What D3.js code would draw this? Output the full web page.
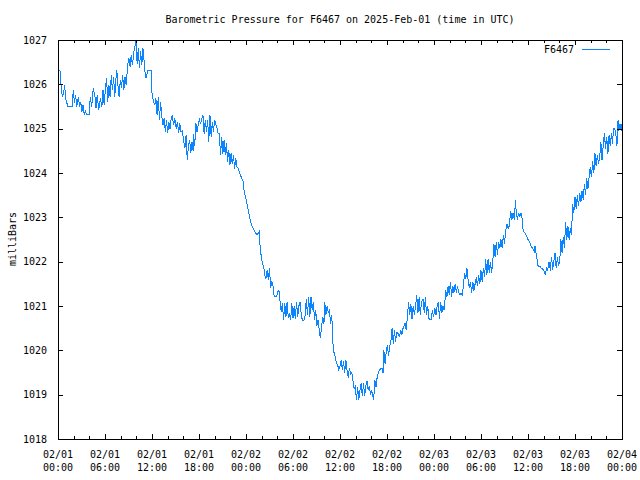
<!DOCTYPE html>
<html>
<head>
<meta charset="utf-8">
<script src="https://cdn.jsdelivr.net/npm/d3@7"></script>
<style>
  html, body { margin: 0; padding: 0; background: #fff; }
  svg { display: block; }
  text { font-family: "DejaVu Sans Mono", "Liberation Mono", monospace; font-size: 10px; fill: #000; }
</style>
</head>
<body>
<svg id="chart" width="640" height="480"></svg>
<script>
// ---- data (hours since 2025-02-01 00:00 UTC, pressure in mbar) ----
const hours = [
  0.25,0.4,0.55,0.7,0.85,1.0,1.15,1.25,1.5,1.8,1.96,2.1,2.25,2.4,2.6,2.75,2.9,3.05,3.2,3.35,3.5,3.65,3.8,4.05,
  4.1,4.3,4.5,4.7,4.85,5.0,5.2,5.4,5.6,5.75,5.9,6.05,6.2,6.35,6.5,6.65,6.8,6.95,7.1,7.25,7.4,7.5,7.65,7.8,7.95,
  8.1,8.25,8.4,8.55,8.7,8.9,9.05,9.2,9.35,9.5,9.7,9.85,9.96,10.1,10.25,10.4,10.55,10.7,10.85,11.0,11.1,11.25,11.4,
  11.5,11.95,12.0,12.2,12.35,12.5,12.65,12.8,12.95,13.1,13.25,13.4,13.55,13.7,13.85,14.0,14.15,14.3,14.45,14.6,
  14.75,14.9,15.1,15.25,15.4,15.55,15.7,15.85,16.1,16.2,16.35,16.5,16.65,16.8,16.95,17.1,17.25,17.3,17.45,17.6,
  17.75,17.9,18.05,18.2,18.35,18.5,18.65,18.8,18.95,19.1,19.25,19.4,19.55,19.7,19.85,20.0,20.15,20.3,20.45,20.6,
  20.75,20.9,21.05,21.2,21.35,21.5,21.65,21.8,21.95,22.1,22.25,22.4,22.55,22.7,22.85,23.0,23.15,23.3,23.45,23.6,
  23.75,23.9,24.05,24.2,24.35,24.5,24.65,24.8,24.95,25.1,25.25,25.4,25.55,25.7,25.8,25.95,26.1,26.25,26.4,26.55,
  26.7,26.85,27.0,27.15,27.3,27.45,27.6,27.75,27.9,28.05,28.2,28.35,28.5,28.65,28.8,28.95,29.1,29.25,29.4,29.55,
  29.7,29.85,30.0,30.15,30.3,30.45,30.6,30.75,30.9,31.05,31.2,31.35,31.5,31.7,31.85,32.0,32.15,32.3,32.45,32.6,
  32.75,32.9,33.05,33.2,33.35,33.5,33.65,33.8,33.95,34.05,34.2,34.35,34.5,34.65,34.8,34.95,35.1,35.25,35.4,35.55,
  35.7,35.85,36.0,36.15,36.3,36.45,36.6,36.75,36.9,37.05,37.2,37.35,37.5,37.65,37.8,37.95,38.1,38.25,38.4,38.55,
  38.7,38.85,39.0,39.15,39.3,39.45,39.6,39.75,39.9,40.05,40.3,40.45,40.6,40.75,40.9,41.05,41.2,41.35,41.5,41.6,
  41.75,41.9,42.05,42.2,42.35,42.5,42.65,42.8,42.95,43.1,43.25,43.45,43.6,43.75,43.9,44.05,44.3,44.45,44.6,44.75,
  44.9,45.05,45.2,45.35,45.5,45.65,45.8,45.95,46.1,46.25,46.4,46.6,46.75,46.9,47.05,47.2,47.35,47.5,47.65,47.8,
  47.95,48.1,48.25,48.4,48.55,48.7,48.85,49.0,49.15,49.3,49.5,49.65,49.8,49.95,50.1,50.25,50.4,50.55,50.7,50.85,
  51.0,51.15,51.3,51.45,51.6,51.75,51.9,52.05,52.2,52.35,52.5,52.65,52.8,52.95,53.1,53.25,53.4,53.55,53.7,53.85,
  54.0,54.15,54.3,54.45,54.6,54.75,54.9,55.05,55.2,55.35,55.5,55.65,55.8,55.95,56.1,56.25,56.4,56.55,56.7,56.85,
  57.0,57.15,57.3,57.45,57.6,57.8,57.95,58.1,58.25,58.4,58.5,58.65,58.8,58.95,59.05,59.2,59.3,59.45,59.6,59.8,
  60.0,60.2,60.4,60.6,60.8,60.9,61.1,61.3,61.5,61.7,62.0,62.2,62.35,62.5,62.7,62.85,63.0,63.15,63.3,63.45,
  63.6,63.75,63.9,64.05,64.2,64.35,64.5,64.65,64.8,64.95,65.1,65.25,65.4,65.55,65.7,65.85,66.0,66.15,66.3,66.45,
  66.6,66.75,66.9,67.05,67.2,67.35,67.5,67.65,67.8,67.95,68.1,68.25,68.4,68.55,68.7,68.85,69.0,69.15,69.3,69.45,
  69.6,69.75,69.9,70.05,70.2,70.35,70.5,70.65,70.8,70.9,71.05,71.2,71.35,71.5,71.6,71.75,71.9,72.0
];
const pressure = [
  1026.32,1025.98,1025.72,1025.80,1025.98,1025.65,1025.57,1025.51,1025.51,1025.51,1025.87,1025.57,1025.76,1025.50,1025.72,1025.50,1025.61,1025.38,1025.53,1025.31,1025.42,1025.31,1025.31,1025.31,
  1025.72,1025.50,1025.91,1025.76,1025.46,1025.76,1025.42,1025.68,1025.50,1025.87,1025.53,1025.91,1026.14,1025.61,1025.98,1025.72,1026.21,1025.87,1026.17,1025.72,1026.14,1026.32,1025.98,1025.72,1026.10,
  1025.91,1026.21,1025.87,1026.17,1025.98,1026.44,1026.59,1026.40,1026.66,1026.44,1026.74,1026.89,1027.00,1026.47,1026.81,1026.36,1026.74,1026.44,1026.81,1026.51,1026.29,1026.14,1026.25,
  1026.32,1026.32,1025.80,1025.61,1025.53,1025.68,1025.31,1025.72,1025.20,1025.61,1025.27,1025.08,1025.23,1024.93,1025.20,1024.90,1025.16,1025.00,1025.23,1025.31,
  1025.08,1025.23,1025.00,1025.16,1024.90,1025.12,1024.93,1024.95,1024.67,1024.56,1024.85,1024.30,1024.60,1024.75,1024.45,1024.70,1024.50,1024.89,1024.60,1025.12,
  1024.93,1025.10,1025.20,1025.10,1025.23,1025.31,1024.89,1025.20,1024.93,1025.20,1024.71,1025.31,1024.82,1025.16,1024.93,1025.20,1025.10,1025.02,1024.89,1024.89,
  1024.40,1024.82,1024.44,1024.74,1024.40,1024.67,1024.26,1024.52,1024.18,1024.44,1024.20,1024.40,1024.10,1024.33,1024.14,1024.10,1024.03,1023.95,1023.88,1023.84,
  1023.62,1023.47,1023.39,1023.24,1023.10,1022.98,1022.86,1022.79,1022.75,1022.68,1022.64,1022.60,1022.64,1022.68,1022.34,1022.11,1021.96,1021.89,1021.70,1021.62,
  1021.81,1021.59,1021.85,1021.41,1021.56,1021.44,1021.21,1021.21,1021.21,1021.32,1021.36,1021.10,1020.87,1021.06,1020.68,1021.06,1020.76,1021.10,1020.72,1020.83,
  1020.68,1021.06,1020.72,1021.00,1020.70,1021.10,1020.75,1021.00,1021.10,1020.80,1020.68,1020.68,1020.70,1021.15,1020.80,1021.20,1020.76,1021.21,1020.90,1021.10,
  1020.68,1020.90,1020.55,1020.68,1020.46,1020.27,1020.55,1020.75,1020.60,1021.10,1020.80,1021.00,1020.85,1020.90,1020.60,1020.80,1020.16,1019.93,1019.86,1019.71,
  1019.67,1019.56,1019.64,1019.78,1019.56,1019.75,1019.50,1019.78,1019.56,1019.38,1019.60,1019.47,1019.50,1019.33,1019.14,1019.18,1018.88,1019.18,1018.88,1019.10,
  1019.26,1018.96,1019.26,1018.96,1019.20,1019.30,1019.10,1019.20,1019.00,1019.10,1018.88,1019.33,1019.18,1019.40,1019.50,1019.55,1019.60,1019.60,1019.48,1020.00,
  1019.70,1019.95,1020.12,1019.87,1020.10,1020.20,1020.50,1020.15,1020.45,1020.20,1020.40,1020.38,1020.30,1020.45,1020.35,1020.50,1020.61,1020.45,1020.75,1021.10,
  1020.80,1021.05,1020.70,1021.00,1020.80,1021.00,1021.25,1020.85,1021.20,1020.80,1021.10,1021.15,1020.85,1021.20,1020.80,1021.00,1020.72,1020.68,1020.70,1020.90,
  1020.75,1020.95,1020.80,1021.00,1021.10,1020.70,1021.10,1020.85,1021.00,1020.90,1021.35,1021.20,1021.45,1021.25,1021.55,1021.20,1021.45,1021.30,1021.50,1021.30,
  1021.45,1021.30,1021.25,1021.28,1021.25,1021.45,1021.75,1021.60,1021.85,1021.60,1021.40,1021.55,1021.30,1021.55,1021.35,1021.50,1021.65,1021.45,1021.70,1021.50,
  1021.80,1021.55,1021.85,1021.65,1022.05,1021.70,1022.05,1021.75,1022.00,1021.75,1022.00,1022.40,1022.10,1022.45,1022.15,1022.45,1022.30,1022.50,1022.30,1022.60,
  1022.40,1022.70,1022.85,1022.75,1022.80,1023.15,1022.95,1023.10,1022.95,1023.38,1023.10,1022.95,1023.10,1023.00,1023.09,1023.09,1022.79,1022.68,1022.65,1022.58,
  1022.50,1022.45,1022.35,1022.30,1022.23,1022.35,1022.11,1021.89,1021.90,1021.85,1021.82,1021.70,1021.85,1021.80,1022.00,1021.80,1022.11,1021.82,1022.00,1022.20,
  1021.85,1022.10,1021.90,1022.00,1022.50,1022.20,1022.55,1022.30,1022.90,1022.50,1022.80,1022.50,1022.75,1022.60,1023.30,1023.10,1023.45,1023.20,1023.50,1023.25,
  1023.55,1023.35,1023.60,1023.40,1023.75,1023.50,1023.88,1023.65,1023.90,1024.14,1023.90,1024.26,1024.00,1024.44,1024.15,1024.40,1024.20,1024.35,1024.70,1024.30,
  1024.60,1024.90,1024.55,1024.80,1024.44,1024.85,1024.60,1024.90,1024.65,1025.00,1025.00,1024.90,1024.60,1025.20,1024.95,1025.10,1024.95,1025.10
];
const yTicks = [1018,1019,1020,1021,1022,1023,1024,1025,1026,1027];
const xTickHours = [0,6,12,18,24,30,36,42,48,54,60,66,72];
const xTickLabels = [
  ["02/01","00:00"],["02/01","06:00"],["02/01","12:00"],["02/01","18:00"],
  ["02/02","00:00"],["02/02","06:00"],["02/02","12:00"],["02/02","18:00"],
  ["02/03","00:00"],["02/03","06:00"],["02/03","12:00"],["02/03","18:00"],
  ["02/04","00:00"]
];
const titleText = "Barometric Pressure for F6467 on 2025-Feb-01 (time in UTC)";
const yLabel = "milliBars";
const seriesName = "F6467";

// ---- layout ----
const plotL = 58, plotR = 622, plotT = 40, plotB = 439;
const lineColor = "#0a84ff";

const t0 = Date.UTC(2025, 1, 1, 0, 0);
const toDate = h => new Date(t0 + h * 3600000);

const svg = d3.select("#chart");
const x = d3.scaleUtc().domain([toDate(0), toDate(72)]).range([plotL, plotR]);
const y = d3.scaleLinear().domain([1018, 1027]).range([plotB, plotT]);

// title
svg.append("text").attr("x", (plotL + plotR) / 2).attr("y", 23)
  .attr("text-anchor", "middle").text(titleText);

// y label
svg.append("text").attr("transform", "translate(16,239) rotate(-90)")
  .attr("text-anchor", "middle").text(yLabel);

// data line
const n = Math.min(hours.length, pressure.length);
const data = d3.range(n).map(i => ({ t: toDate(hours[i]), v: pressure[i] }));
svg.append("path").datum(data)
  .attr("fill", "none").attr("stroke", lineColor).attr("stroke-width", 1)
  .attr("shape-rendering", "crispEdges")
  .attr("d", d3.line().x(d => x(d.t)).y(d => y(d.v)));

// axes with gnuplot-style inward ticks
const majorX = xTickHours.map(toDate);
const minorX = d3.range(0, 73, 2).filter(h => h % 6 !== 0).map(toDate);

svg.append("g").attr("transform", `translate(0,${plotB})`)
  .call(d3.axisBottom(x).tickValues(majorX).tickSize(-5).tickFormat(() => ""));
svg.append("g").attr("transform", `translate(0,${plotB})`)
  .call(d3.axisBottom(x).tickValues(minorX).tickSize(-3).tickFormat(() => ""));
svg.append("g").attr("transform", `translate(0,${plotT})`)
  .call(d3.axisTop(x).tickValues(majorX).tickSize(-5).tickFormat(() => ""));
svg.append("g").attr("transform", `translate(0,${plotT})`)
  .call(d3.axisTop(x).tickValues(minorX).tickSize(-3).tickFormat(() => ""));
const gLeft = svg.append("g").attr("transform", `translate(${plotL},0)`)
  .call(d3.axisLeft(y).tickValues(yTicks).tickSize(-5).tickPadding(11).tickFormat(d3.format("d")));
svg.append("g").attr("transform", `translate(${plotR},0)`)
  .call(d3.axisRight(y).tickValues(yTicks).tickSize(-5).tickFormat(() => ""));

svg.selectAll(".domain").remove();
svg.selectAll(".tick line").attr("stroke", "#000").attr("shape-rendering", "crispEdges");
gLeft.selectAll("text").attr("font-family", "DejaVu Sans Mono").attr("font-size", 10).attr("fill", "#000");

// border box
svg.append("rect").attr("x", plotL).attr("y", plotT)
  .attr("width", plotR - plotL).attr("height", plotB - plotT)
  .attr("fill", "none").attr("stroke", "#000").attr("stroke-width", 1)
  .attr("shape-rendering", "crispEdges");

// x tick labels (two lines)
const xl = svg.append("g");
xTickHours.forEach((h, i) => {
  const t = xl.append("text").attr("text-anchor", "middle");
  t.append("tspan").attr("x", x(toDate(h))).attr("y", 458).text(xTickLabels[i][0]);
  t.append("tspan").attr("x", x(toDate(h))).attr("y", 471).text(xTickLabels[i][1]);
});

// legend
svg.append("text").attr("x", 574).attr("y", 53).attr("text-anchor", "end").text(seriesName);
svg.append("line").attr("x1", 582).attr("x2", 610).attr("y1", 49.5).attr("y2", 49.5)
  .attr("stroke", lineColor).attr("stroke-width", 1);
</script>
</body>
</html>
